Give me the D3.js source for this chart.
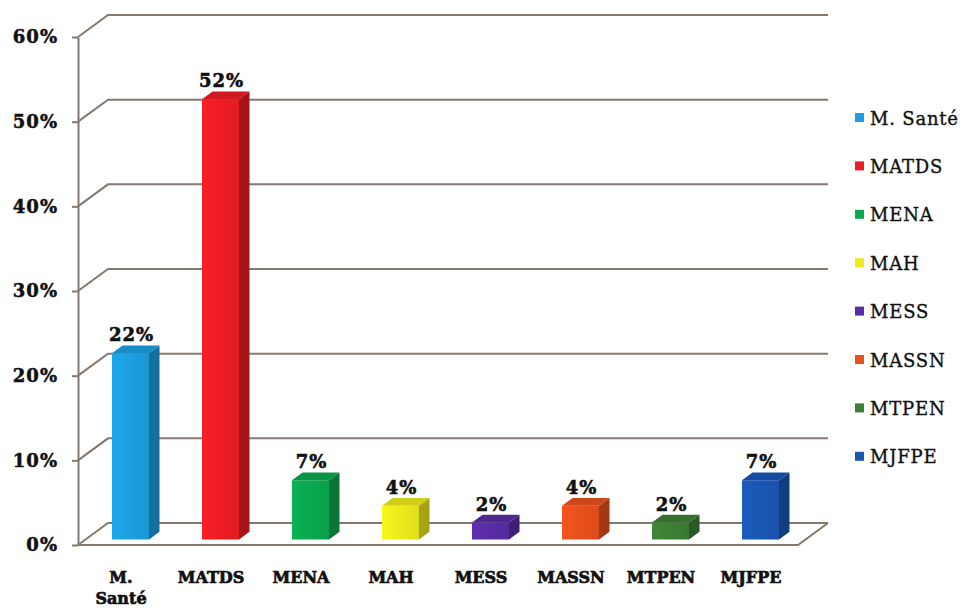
<!DOCTYPE html>
<html>
<head>
<meta charset="utf-8">
<script src="https://cdn.jsdelivr.net/npm/d3@7"></script>
<style>
  html, body { margin: 0; padding: 0; background: #ffffff; }
  svg { display: block; }
</style>
</head>
<body>
<svg id="chart" width="970" height="608"></svg>
<script>
// Share of cases per ministry (percent)
const categories = ["M. Santé", "MATDS", "MENA", "MAH", "MESS", "MASSN", "MTPEN", "MJFPE"];
const values = [22, 52, 7, 4, 2, 4, 2, 7];
const colors = ["#1b9fe0", "#ec1c24", "#0aa84f", "#ece91c", "#5a2ca6", "#e8501c", "#3d7f35", "#1a57b4"];
const yTicks = [0, 10, 20, 30, 40, 50, 60];

const svg = d3.select("#chart");

// plot frame: front plane and the receding depth of the 3D box
const plotLeft = 78, plotRight = 798, plotBottom = 545, plotTop = 37;
const depthX = 30, depthY = 22;          // offset from front plane to back wall
const barFront = 0.25, barBack = 0.6;    // bar position inside the depth
const barW = 37;
const gridColor = "#85796f";
const ink = "#111";

const x = d3.scaleBand().domain(categories).range([plotLeft, plotRight]);
const y = d3.scaleLinear().domain([0, 60]).range([plotBottom, plotTop]);

// back wall gridlines, bent forward to the left axis
const grid = svg.append("g");
yTicks.forEach(t => {
  const yy = y(t);
  grid.append("path")
    .attr("d", `M${plotLeft},${yy} L${plotLeft + depthX},${yy - depthY} L${plotRight + depthX},${yy - depthY}`)
    .attr("fill", "none").attr("stroke", gridColor).attr("stroke-width", 2);
});

// floor outline
grid.append("path")
  .attr("d", `M${plotLeft},${plotBottom} L${plotRight},${plotBottom} L${plotRight + depthX},${plotBottom - depthY}`)
  .attr("fill", "none").attr("stroke", gridColor).attr("stroke-width", 2);

// left value axis
const yAxis = d3.axisLeft(y)
  .tickValues(yTicks)
  .tickFormat(d => d + "%")
  .tickSize(6)
  .tickSizeOuter(0)
  .tickPadding(14);
const ax = svg.append("g").attr("transform", `translate(${plotLeft},0)`).call(yAxis);
ax.select(".domain").attr("stroke", gridColor).attr("stroke-width", 2);
ax.selectAll(".tick line").attr("stroke", gridColor).attr("stroke-width", 2);
ax.selectAll(".tick text")
  .attr("fill", ink)
  .attr("stroke", ink).attr("stroke-width", 0.5)
  .style("font-family", "'DejaVu Serif', serif")
  .style("font-weight", "bold")
  .style("font-size", "18px")
  .style("letter-spacing", "1px");

// bar gradients
const defs = svg.append("defs");
categories.forEach((c, i) => {
  const g = defs.append("linearGradient").attr("id", "grad" + i)
    .attr("x1", "0").attr("x2", "1").attr("y1", "0").attr("y2", "0");
  const base = d3.color(colors[i]);
  g.append("stop").attr("offset", "0").attr("stop-color", base.brighter(0.15));
  g.append("stop").attr("offset", "1").attr("stop-color", base.darker(0.15));
});

// 3D bars
const fdx = depthX * barFront, fdy = depthY * barFront;
const ddx = depthX * (barBack - barFront), ddy = depthY * (barBack - barFront);
const bars = svg.append("g");
categories.forEach((c, i) => {
  const v = values[i];
  const x0 = x(c) + (x.bandwidth() - barW) / 2 + fdx;
  const x1 = x0 + barW;
  const yt = y(v) - fdy;
  const yb = y(0) - fdy;
  const base = d3.color(colors[i]);
  // right side
  bars.append("path")
    .attr("d", `M${x1},${yt} L${x1 + ddx},${yt - ddy} L${x1 + ddx},${yb - ddy} L${x1},${yb} Z`)
    .attr("fill", base.darker(1.0));
  // top
  bars.append("path")
    .attr("d", `M${x0},${yt} L${x0 + ddx},${yt - ddy} L${x1 + ddx},${yt - ddy} L${x1},${yt} Z`)
    .attr("fill", base.darker(0.35));
  // front
  bars.append("rect")
    .attr("x", x0).attr("y", yt)
    .attr("width", barW).attr("height", yb - yt)
    .attr("fill", `url(#grad${i})`);
  // value label
  bars.append("text")
    .attr("x", x0 + barW / 2 + 1)
    .attr("y", yt - 12)
    .attr("text-anchor", "middle")
    .attr("fill", ink)
    .attr("stroke", ink).attr("stroke-width", 0.6)
    .style("font-family", "'DejaVu Serif', serif")
    .style("font-weight", "bold")
    .style("font-size", "18px")
    .style("letter-spacing", "1px")
    .text(v + "%");
});

// category labels (wrapped at spaces)
const xl = svg.append("g");
categories.forEach(c => {
  const t = xl.append("text")
    .attr("text-anchor", "middle")
    .attr("fill", ink)
    .attr("stroke", ink).attr("stroke-width", 0.7)
    .style("font-family", "'DejaVu Serif', serif")
    .style("font-weight", "bold")
    .style("font-size", "16px");
  c.split(" ").forEach((part, k) => {
    t.append("tspan")
      .attr("x", x(c) + x.bandwidth() / 2 - 2)
      .attr("y", 583 + k * 21)
      .text(part);
  });
});

// legend
const legend = svg.append("g").attr("transform", "translate(855,118)");
categories.forEach((c, i) => {
  const g = legend.append("g").attr("transform", `translate(0,${i * 48.4})`);
  g.append("rect").attr("x", 0).attr("y", -5).attr("width", 9).attr("height", 9)
    .attr("fill", colors[i]);
  g.append("text").attr("x", 15).attr("y", 6.5)
    .attr("fill", ink)
    .attr("stroke", ink).attr("stroke-width", 0.35)
    .style("font-family", "'DejaVu Serif', serif")
    .style("font-size", "18px")
    .style("letter-spacing", "0.8px")
    .text(c);
});
</script>
</body>
</html>
